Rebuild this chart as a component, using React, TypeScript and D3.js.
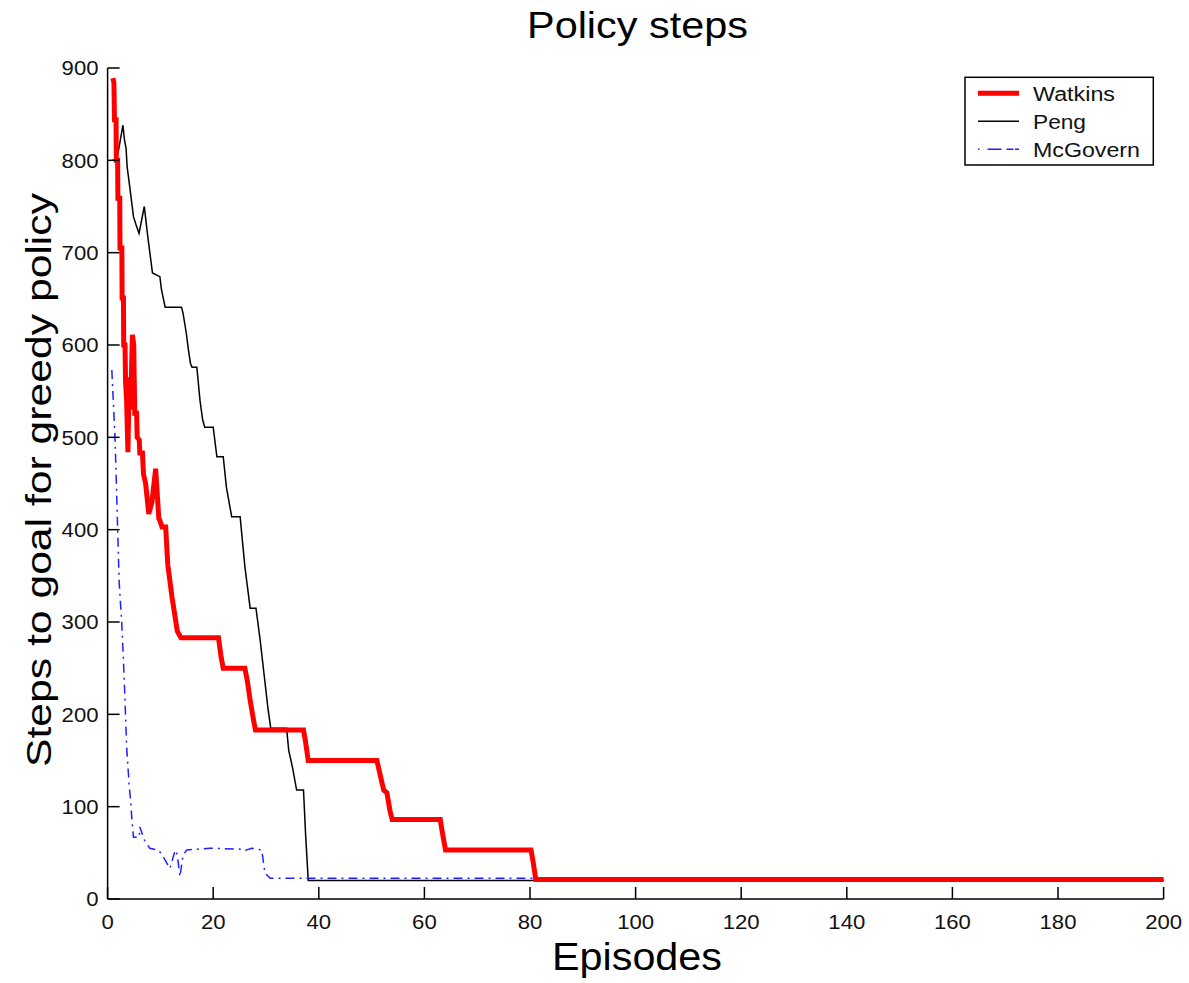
import * as d3 from "d3";

// episodes vs. steps to goal
const watkinsEp = [1, 1.2, 1.3, 1.6, 1.65, 1.9, 1.95, 2.3, 2.35, 2.7, 2.75, 3.0, 3.05, 3.3, 3.4, 3.6, 3.85, 4.1, 4.35, 4.7, 4.95, 5.05, 5.15, 5.5, 5.6, 6.0, 6.1, 6.6, 6.8, 7.2, 7.8, 8.4, 9.1, 9.7, 9.9, 10.3, 11.0, 11.4, 12.2, 13.2, 13.9, 21.0, 21.5, 21.9, 26.0, 26.5, 27.0, 27.6, 28.0, 37.1, 37.5, 38.0, 51.0, 51.8, 52.3, 52.9, 53.5, 53.9, 63.0, 63.4, 64.0, 80.2, 80.6, 81.1, 200];
const watkinsVal = [889, 884, 844, 844, 800, 800, 759, 759, 705, 705, 651, 651, 600, 600, 560, 540, 484, 565, 530, 611, 600, 560, 526, 526, 500, 497, 483, 483, 460, 450, 417, 430, 466, 412, 410, 403, 403, 362, 327, 290, 283, 283, 262, 250, 250, 235, 215, 195, 183, 183, 170, 150, 150, 130, 118, 115, 95, 86, 86, 72, 53, 53, 40, 21, 21];

const pengEp = [0.8, 1.7, 2.2, 2.9, 3.2, 3.5, 3.7, 4.2, 4.9, 5.4, 5.95, 6.95, 7.6, 8.0, 8.5, 9.9, 10.2, 10.9, 14.0, 14.3, 14.9, 15.3, 15.7, 16.0, 16.9, 17.5, 18.0, 18.4, 20.0, 20.7, 21.9, 22.5, 23.5, 25.1, 26.0, 27.0, 28.1, 28.9, 29.6, 30.4, 30.9, 33.9, 34.3, 35.0, 35.8, 37.1, 37.5, 38.0, 200];
const pengVal = [800, 800, 815, 838, 822, 813, 793, 771, 739, 730, 721, 750, 718, 700, 678, 674, 660, 641, 641, 634, 613, 595, 580, 576, 576, 540, 519, 511, 511, 479, 479, 446, 414, 414, 360, 315, 315, 280, 245, 205, 185, 185, 161, 143, 118, 118, 70, 20, 20];

const mcgovernEp = [0.8, 1.4, 1.7, 1.9, 2.2, 2.67, 3.0, 3.3, 3.6, 4.1, 4.4, 4.6, 4.9, 6.0, 6.1, 7.1, 8.0, 9.6, 10.2, 10.9, 11.8, 12.8, 13.2, 13.7, 14.3, 15.0, 16.9, 19.4, 25.1, 25.7, 27.3, 29.2, 29.8, 30.8, 200];
const mcgovernVal = [573, 500, 443, 400, 342, 300, 259, 215, 165, 122, 104, 86, 67, 67, 78, 62, 55, 53, 49, 42, 33, 53, 48, 24, 48, 53, 54, 55, 54, 52, 55, 53, 28, 22.5, 22.5];

const legendNames = ["Watkins", "Peng", "McGovern"];
const legendWidths = [82, 53, 107];

const xTicks = [0, 20, 40, 60, 80, 100, 120, 140, 160, 180, 200];
const yTicks = [0, 100, 200, 300, 400, 500, 600, 700, 800, 900];

const FONT = "'Liberation Sans', Arial, Helvetica, sans-serif";

export default function App() {
  const x = d3.scaleLinear().domain([0, 200]).range([107.6, 1163.6]);
  const y = d3.scaleLinear().domain([0, 900]).range([899, 68]);

  const line = d3
    .line<[number, number]>()
    .x((d) => x(d[0]))
    .y((d) => y(d[1]));

  const zip = (a: number[], b: number[]) =>
    a.map((v, i) => [v, b[i]] as [number, number]);

  const styles = [
    { stroke: "#ff0000", width: 5, dash: "none" },
    { stroke: "#000000", width: 1.5, dash: "none" },
    { stroke: "#2020ff", width: 1.5, dash: "9,5,2,5" },
  ];

  // tick labels in the reference are a bit wider than plain Arial
  const labelW = (t: number) => String(t).length * 12.3;

  return (
    <svg
      width={1189}
      height={983}
      style={{ position: "absolute", left: 0, top: 0, background: "#fff" }}
      fontFamily={FONT}
    >
      <text x={637.5} y={38.3} fontSize={36} textAnchor="middle" textLength={221} lengthAdjust="spacingAndGlyphs">
        Policy steps
      </text>

      {/* series */}
      <path d={line(zip(pengEp, pengVal)) ?? ""} fill="none" stroke={styles[1].stroke} strokeWidth={styles[1].width} />
      <path d={line(zip(mcgovernEp, mcgovernVal)) ?? ""} fill="none" stroke={styles[2].stroke} strokeWidth={styles[2].width} strokeDasharray={styles[2].dash} />
      <path d={line(zip(watkinsEp, watkinsVal)) ?? ""} fill="none" stroke={styles[0].stroke} strokeWidth={styles[0].width} strokeLinejoin="miter" />

      {/* axes */}
      <g stroke="#000" strokeWidth={1.5} fill="none">
        <line x1={x(0)} x2={x(0)} y1={y(0)} y2={y(900)} />
        <line x1={x(0)} x2={x(200)} y1={y(0)} y2={y(0)} />
        {xTicks.map((t) => (
          <line key={"xt" + t} x1={x(t)} x2={x(t)} y1={y(0)} y2={y(0) - 12} />
        ))}
        {yTicks.map((t) => (
          <line key={"yt" + t} x1={x(0)} x2={x(0) + 12} y1={y(t)} y2={y(t)} />
        ))}
      </g>
      <g fontSize={20} fill="#111">
        {xTicks.map((t) => (
          <text key={"xl" + t} x={x(t)} y={929.3} textAnchor="middle" textLength={labelW(t)} lengthAdjust="spacingAndGlyphs">
            {t}
          </text>
        ))}
        {yTicks.map((t) => (
          <text key={"yl" + t} x={98.5} y={y(t)} dy="0.36em" textAnchor="end" textLength={labelW(t)} lengthAdjust="spacingAndGlyphs">
            {t}
          </text>
        ))}
      </g>

      <text x={637} y={970} fontSize={39} textAnchor="middle" textLength={170} lengthAdjust="spacingAndGlyphs">
        Episodes
      </text>
      <text
        transform={`translate(51,480) rotate(-90)`}
        fontSize={35}
        textAnchor="middle"
        textLength={574}
        lengthAdjust="spacingAndGlyphs"
      >
        Steps to goal for greedy policy
      </text>

      {/* legend */}
      <rect x={965} y={77.3} width={188.3} height={87.7} fill="#fff" stroke="#000" strokeWidth={1.5} />
      {legendNames.map((name, i) => {
        const ly = 93.3 + i * 28;
        return (
          <g key={name}>
            <line
              x1={978}
              x2={1019}
              y1={ly}
              y2={ly}
              stroke={styles[i].stroke}
              strokeWidth={styles[i].width}
              strokeDasharray={i === 2 ? "1.5,8,14,5,7" : "none"}
            />
            <text x={1033} y={ly + 7.3} fontSize={20} fill="#111" textLength={legendWidths[i]} lengthAdjust="spacingAndGlyphs">
              {name}
            </text>
          </g>
        );
      })}
    </svg>
  );
}
